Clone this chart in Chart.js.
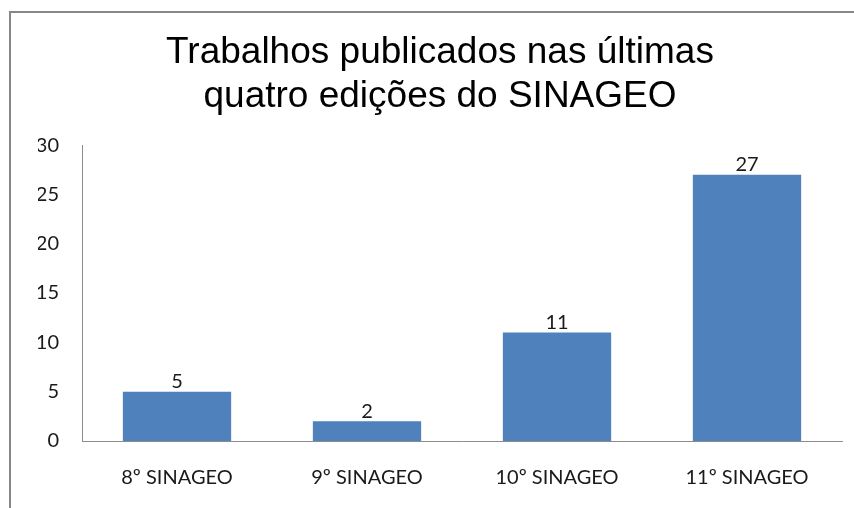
<!DOCTYPE html>
<html>
<head>
<meta charset="utf-8">
<script src="https://cdn.jsdelivr.net/npm/chart.js@4"></script>
<style>
  html, body { margin: 0; padding: 0; background: #fff; }
  #wrap { position: relative; width: 854px; height: 508px; overflow: hidden; }
  #frame { position: absolute; left: 9px; top: 11px; width: 900px; height: 600px; border: 2px solid #878787; }
  canvas { position: absolute; left: 0; top: 0; }
</style>
</head>
<body>
<div id="wrap">
  <div id="frame"></div>
  <canvas id="chart" width="854" height="508"></canvas>
</div>
<script>
// dados do gráfico
var categorias = ['8º SINAGEO', '9º SINAGEO', '10º SINAGEO', '11º SINAGEO'];
var trabalhos = [5, 2, 11, 27];
var titulo = ['Trabalhos publicados nas últimas', 'quatro edições do SINAGEO'];

// rótulos de valor acima das barras
var rotulos = {
    id: 'rotulos',
    afterDatasetsDraw: function (chart) {
        var ctx = chart.ctx;
        var meta = chart.getDatasetMeta(0);
        ctx.save();
        ctx.font = '20px Lato';
        ctx.fillStyle = '#1a1a1a';
        ctx.textAlign = 'center';
        ctx.textBaseline = 'bottom';
        meta.data.forEach(function (bar, i) {
            ctx.fillText(chart.data.datasets[0].data[i], bar.x, bar.y);
        });
        ctx.restore();
    }
};

var grafico = new Chart(document.getElementById('chart'), {
    type: 'bar',
    data: {
        labels: categorias,
        datasets: [
            {
                data: trabalhos,
                backgroundColor: '#4f81bd',
                borderWidth: 0,
                barPercentage: 0.57,
                categoryPercentage: 1
            }
        ]
    },
    options: {
        responsive: false,
        animation: false,
        layout: {
            padding: { left: 38, right: 12, top: 0, bottom: 1 }
        },
        plugins: {
            legend: { display: false },
            tooltip: { enabled: false },
            title: {
                display: true,
                text: titulo,
                color: '#000',
                font: { family: 'Liberation Sans', size: 37, weight: 'normal', lineHeight: 1.19 },
                padding: { top: 31, bottom: 26 }
            }
        },
        scales: {
            x: {
                grid: { display: false },
                border: { display: true, color: '#8c8c8c', width: 1 },
                ticks: {
                    color: '#1a1a1a',
                    font: { family: 'Lato', size: 20 },
                    padding: 17
                }
            },
            y: {
                min: 0,
                max: 30,
                grid: { display: false },
                border: { display: true, color: '#8c8c8c', width: 1 },
                ticks: {
                    stepSize: 5,
                    color: '#1a1a1a',
                    font: { family: 'Lato', size: 20 },
                    padding: 15
                },
                afterFit: function (scale) {
                    scale.width = 44;
                }
            }
        }
    },
    plugins: [rotulos]
});
</script>
</body>
</html>
